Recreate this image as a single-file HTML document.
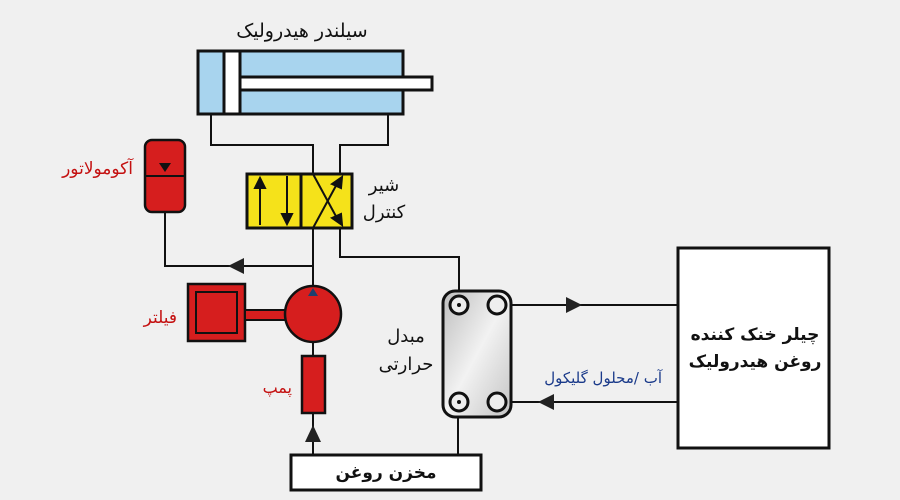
<!DOCTYPE html>
<html><head><meta charset="utf-8"><style>
html,body{margin:0;padding:0;background:#f0f0f0;}
svg{display:block}
text{font-family:"DejaVu Sans","Liberation Sans","Noto Sans CJK SC",sans-serif;}
</style></head><body>
<svg width="900" height="500" viewBox="0 0 900 500" xmlns="http://www.w3.org/2000/svg">
<defs>
<linearGradient id="hx" x1="0" y1="0" x2="1" y2="1">
<stop offset="0" stop-color="#bdbdbd"/><stop offset="0.5" stop-color="#f2f2f2"/><stop offset="1" stop-color="#c4c4c4"/>
</linearGradient>
</defs>
<rect width="900" height="500" fill="#f0f0f0"/>
<g stroke="#111" stroke-width="2" fill="none">
<polyline points="211,114 211,145 313,145 313,285"/>
<polyline points="388,114 388,145 340,145 340,257 459,257 459,295"/>
<polyline points="165,212 165,266 313,266"/>
<line x1="313" y1="343" x2="313" y2="356"/>
<line x1="313" y1="413" x2="313" y2="455"/>
<line x1="458" y1="410" x2="458" y2="455"/>
<line x1="506" y1="305" x2="678" y2="305"/>
<line x1="506" y1="402" x2="678" y2="402"/>
</g>
<!-- cylinder -->
<rect x="198" y="51" width="205" height="63" fill="#a8d4ee" stroke="#111" stroke-width="3"/>
<rect x="224" y="51" width="16" height="63" fill="#fff" stroke="#111" stroke-width="3"/>
<rect x="240" y="77" width="192" height="13" fill="#fff" stroke="#111" stroke-width="3"/>
<text x="302" y="37" font-size="19" text-anchor="middle" fill="#111">سیلندر هیدرولیک</text>
<!-- valve -->
<rect x="247" y="174" width="105" height="54" fill="#f5e21a" stroke="#111" stroke-width="3"/>
<line x1="301" y1="174" x2="301" y2="228" stroke="#111" stroke-width="3"/>
<g stroke="#111" stroke-width="2" fill="#111">
<line x1="260" y1="225" x2="260" y2="184"/><polygon points="255,188 265,188 260,178"/>
<line x1="287" y1="176" x2="287" y2="218"/><polygon points="282,214 292,214 287,224"/>
<line x1="313" y1="228" x2="338" y2="182"/><polygon points="332,184 341,188 342,177"/>
<line x1="313" y1="174" x2="338" y2="220"/><polygon points="332,218 341,214 342,225"/>
</g>
<text x="384" y="191" font-size="18" text-anchor="middle" fill="#111">شیر</text>
<text x="384" y="218" font-size="18" text-anchor="middle" fill="#111">کنترل</text>
<!-- accumulator -->
<rect x="145" y="140" width="40" height="72" rx="7" fill="#d61e1e" stroke="#111" stroke-width="2.5"/>
<line x1="145" y1="176" x2="185" y2="176" stroke="#111" stroke-width="2"/>
<polygon points="159,163 171,163 165,172" fill="#111"/>
<text x="133" y="174" font-size="17" text-anchor="end" fill="#c41010">آکومولاتور</text>
<!-- arrows -->
<polygon points="228,266 244,258 244,274" fill="#222"/>
<polygon points="313,425 305,442 321,442" fill="#222"/>
<polygon points="582,305 566,297 566,313" fill="#222"/>
<polygon points="538,402 554,394 554,410" fill="#222"/>
<!-- filter -->
<rect x="188" y="284" width="57" height="57" fill="#d61e1e" stroke="#111" stroke-width="2.5"/>
<rect x="196" y="292" width="41" height="41" fill="#d61e1e" stroke="#111" stroke-width="2"/>
<rect x="245" y="310" width="42" height="10" fill="#d61e1e" stroke="#111" stroke-width="2"/>
<text x="177" y="323" font-size="17" text-anchor="end" fill="#c41010">فیلتر</text>
<!-- pump -->
<circle cx="313" cy="314" r="28" fill="#d61e1e" stroke="#111" stroke-width="2.5"/>
<polygon points="308,296 318,296 313,288" fill="#1d3f6e"/>
<rect x="302" y="356" width="23" height="57" fill="#d61e1e" stroke="#111" stroke-width="2.5"/>
<text x="292" y="393" font-size="16" text-anchor="end" fill="#c41010">پمپ</text>
<!-- tank -->
<rect x="291" y="455" width="190" height="35" fill="#fff" stroke="#111" stroke-width="3"/>
<text x="386" y="478" font-size="17" font-weight="bold" text-anchor="middle" fill="#111">مخزن روغن</text>
<!-- heat exchanger -->
<rect x="443" y="291" width="68" height="126" rx="12" fill="url(#hx)" stroke="#111" stroke-width="3"/>
<g fill="#eee" stroke="#111" stroke-width="3">
<circle cx="459" cy="305" r="9"/><circle cx="497" cy="305" r="9"/>
<circle cx="459" cy="402" r="9"/><circle cx="497" cy="402" r="9"/>
</g>
<g fill="#111"><circle cx="459" cy="305" r="2"/><circle cx="459" cy="402" r="2"/></g>
<text x="406" y="342" font-size="18" text-anchor="middle" fill="#111">مبدل</text>
<text x="406" y="370" font-size="18" text-anchor="middle" fill="#111">حرارتی</text>
<!-- chiller -->
<rect x="678" y="248" width="151" height="200" fill="#fff" stroke="#111" stroke-width="3"/>
<text x="755" y="340" font-size="17" font-weight="bold" text-anchor="middle" fill="#111">چیلر خنک کننده</text>
<text x="755" y="367" font-size="17" font-weight="bold" text-anchor="middle" fill="#111">روغن هیدرولیک</text>
<text x="662" y="383" font-size="15" text-anchor="end" fill="#1a3a8a">آب /محلول گلیکول</text>
</svg>
</body></html>
